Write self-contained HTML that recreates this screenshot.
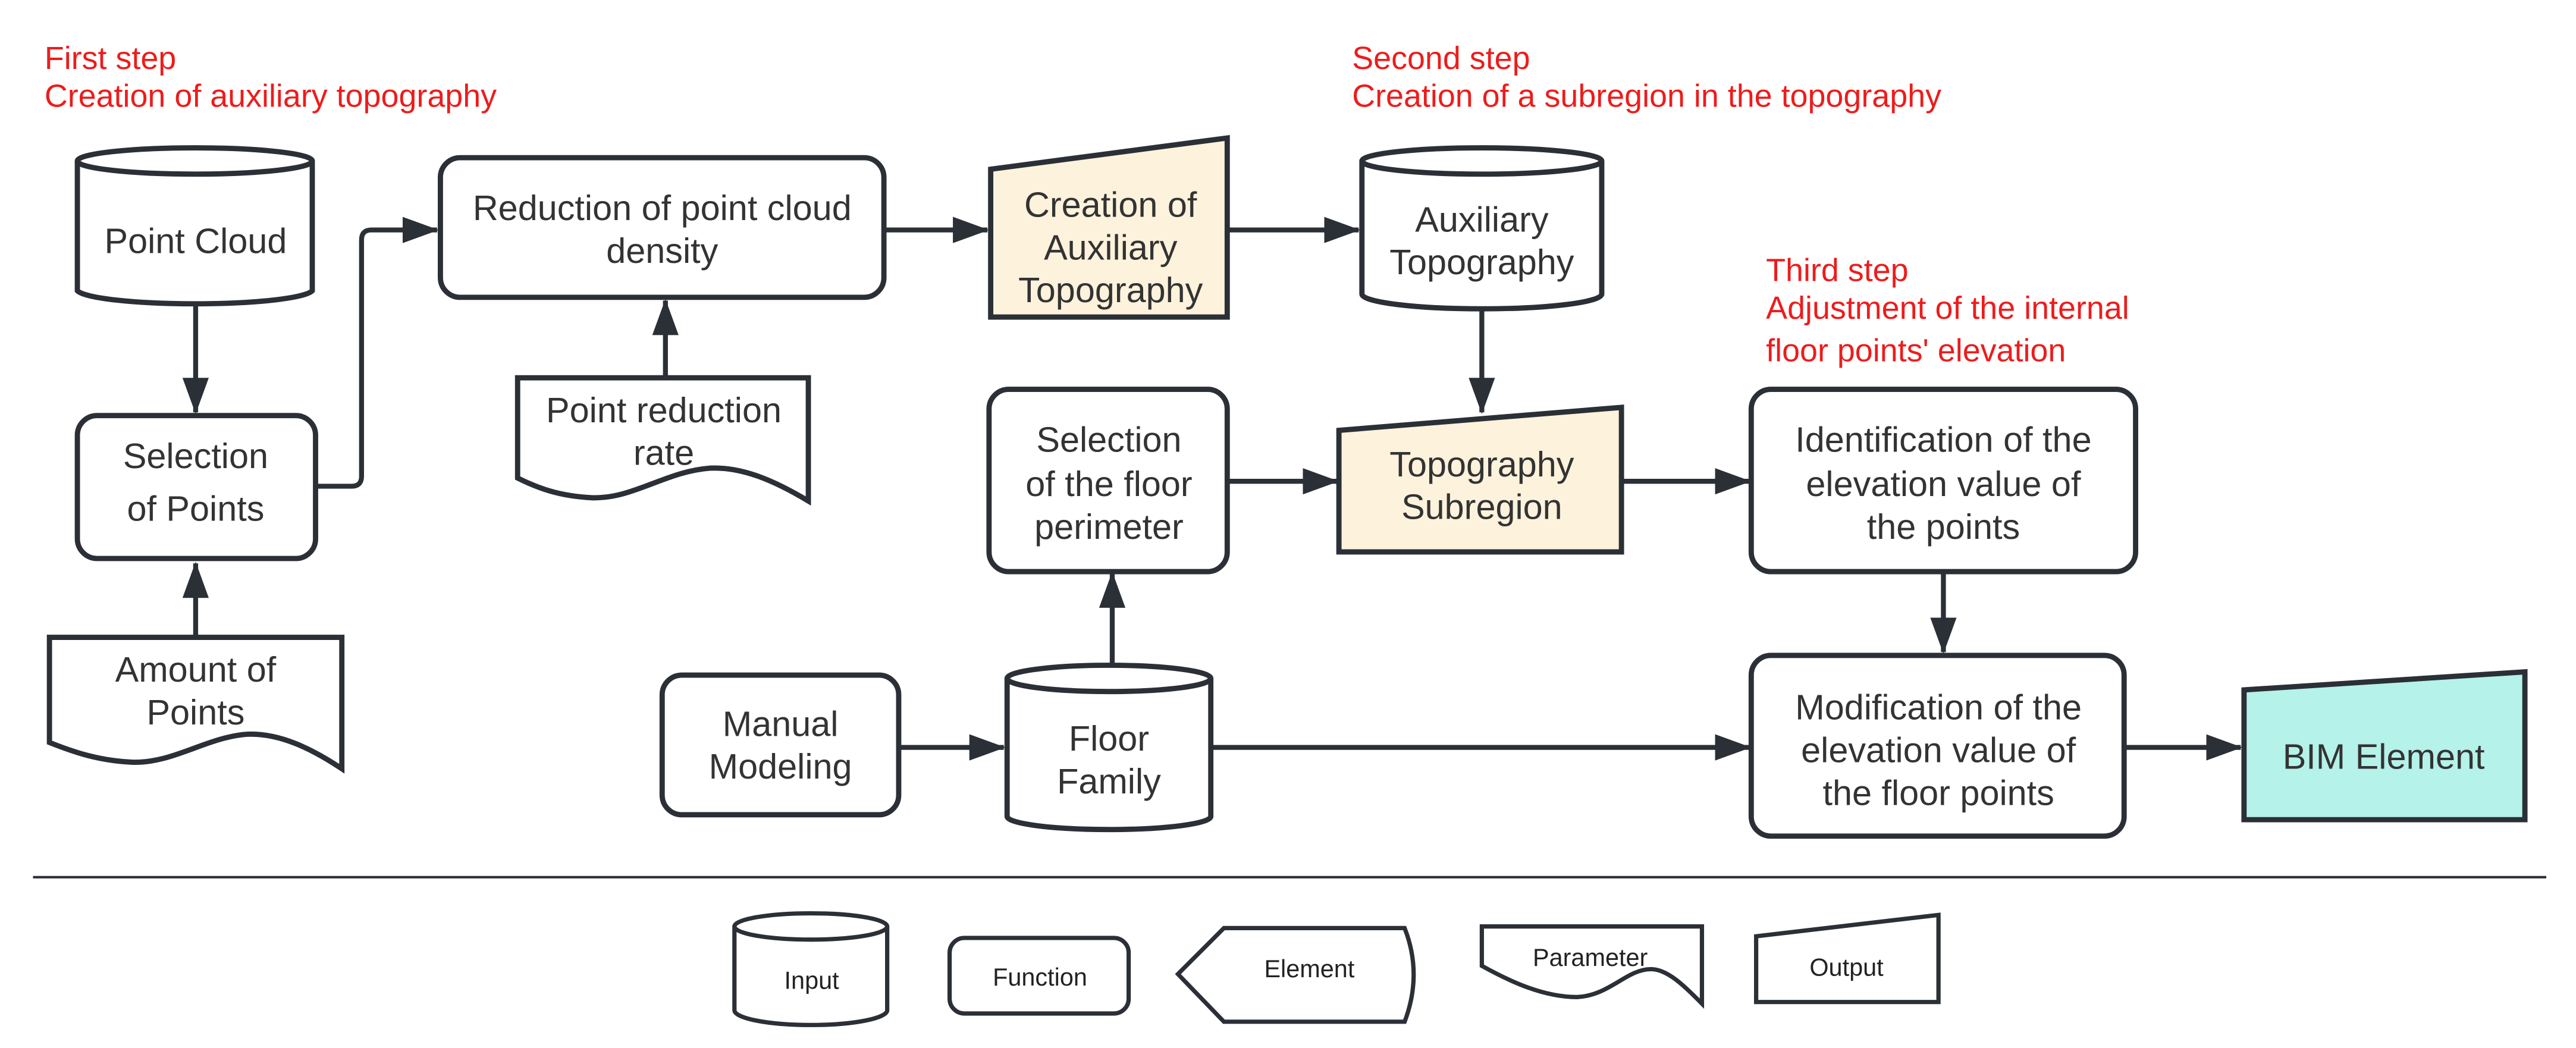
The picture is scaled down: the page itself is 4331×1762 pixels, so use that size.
<!DOCTYPE html>
<html><head><meta charset="utf-8"><style>
html,body{margin:0;padding:0;background:#fff}
svg{display:block}
text{font-family:"Liberation Sans",sans-serif}
</style></head><body>
<svg width="4331" height="1762" viewBox="0 0 1568 638" xmlns="http://www.w3.org/2000/svg">
<defs>
<marker id="b" markerWidth="22" markerHeight="16" refX="21" refY="8" orient="auto" markerUnits="userSpaceOnUse">
<path d="M0,0 L22,8 L0,16 z" fill="#2b2f36"/>
</marker>
</defs>
<g fill="#ed1c1c" font-size="19.5">
<text x="27" y="42">First step</text>
<text x="27" y="65">Creation of auxiliary topography</text>
<text x="823" y="42">Second step</text>
<text x="823" y="65">Creation of a subregion in the topography</text>
<text x="1075" y="171">Third step</text>
<text x="1075" y="194">Adjustment of the internal</text>
<text x="1075" y="220">floor points' elevation</text>
</g>
<g stroke="#2b2f36" stroke-width="3" fill="none">
<path d="M119,186 V251" marker-end="url(#b)"/>
<path d="M119,388 V343" marker-end="url(#b)"/>
<path d="M192,296 H214 Q220,296 220,290 V146 Q220,140 226,140 H266" marker-end="url(#b)"/>
<path d="M405,230 V183" marker-end="url(#b)"/>
<path d="M538,140 H601" marker-end="url(#b)"/>
<path d="M747,140 H827" marker-end="url(#b)"/>
<path d="M902,188 V251" marker-end="url(#b)"/>
<path d="M747,293 H814" marker-end="url(#b)"/>
<path d="M987,293 H1065" marker-end="url(#b)"/>
<path d="M1183,348 V397" marker-end="url(#b)"/>
<path d="M547,455 H611" marker-end="url(#b)"/>
<path d="M677,405 V349" marker-end="url(#b)"/>
<path d="M737,455 H1065" marker-end="url(#b)"/>
<path d="M1293,455 H1364" marker-end="url(#b)"/>
</g>
<g stroke="#2b2f36" stroke-width="3.2" fill="#fff">
<path d="M47,98 V177 A72,9 0 0 0 190,177 V98"/>
<ellipse cx="118.5" cy="98" rx="71.5" ry="8"/>
<rect x="47" y="253" width="145" height="87" rx="12"/>
<path d="M30,388 H208 V468 C190,456 170,446 150,447 C125,449 105,465 80,464 C60,463 45,458 30,452 Z"/>
<rect x="268" y="96" width="270" height="85" rx="12"/>
<path d="M315,230 H492 V305 C472,293 452,284 432,285 C405,287 385,304 360,303 C340,302 327,297 315,291 Z"/>
<path d="M603,103 L747,84 V193 H603 Z" fill="#fdf2dc"/>
<path d="M829,98 V179 A73,9 0 0 0 975,179 V98"/>
<ellipse cx="902" cy="98" rx="73" ry="8"/>
<path d="M815,262 L987,248 V336 H815 Z" fill="#fdf2dc"/>
<rect x="602" y="237" width="145" height="111" rx="12"/>
<rect x="1066" y="237" width="234" height="111" rx="12"/>
<rect x="1066" y="399" width="227" height="110" rx="12"/>
<rect x="403" y="411" width="144" height="85" rx="12"/>
<path d="M613,413 V497 A62,8 0 0 0 737,497 V413"/>
<ellipse cx="675" cy="413" rx="62" ry="8"/>
<path d="M1366,420 L1537,409 V499 H1366 Z" fill="#b5f2e9"/>
</g>
<line x1="20" y1="534" x2="1550" y2="534" stroke="#2b2f36" stroke-width="1.5"/>
<g stroke="#2b2f36" stroke-width="2.6" fill="#fff">
<path d="M447,564 V615 A46.5,9 0 0 0 540,615 V564"/>
<ellipse cx="493.5" cy="564" rx="46.5" ry="8"/>
<rect x="578" y="571" width="109" height="46" rx="9"/>
<path d="M745,565 H855 Q866,593 855,622 H745 L717,593 Z"/>
<path d="M902,564 H1036 V611 C1025,600 1015,590 1005,590 C990,590 980,606 960,607 C940,607 920,598 902,588 Z"/>
<path d="M1069,570 L1180,557 V610 H1069 Z"/>
</g>
<g fill="#333" font-size="21.5" text-anchor="middle">
<text x="119" y="154">Point Cloud</text>
<text x="119" y="285">Selection</text>
<text x="119" y="317">of Points</text>
<text x="119" y="415">Amount of</text>
<text x="119" y="441">Points</text>
<text x="403" y="134">Reduction of point cloud</text>
<text x="403" y="160">density</text>
<text x="404" y="257">Point reduction</text>
<text x="404" y="283">rate</text>
<text x="676" y="132">Creation of</text>
<text x="676" y="158">Auxiliary</text>
<text x="676" y="184">Topography</text>
<text x="902" y="141">Auxiliary</text>
<text x="902" y="167">Topography</text>
<text x="902" y="290">Topography</text>
<text x="902" y="316">Subregion</text>
<text x="675" y="275">Selection</text>
<text x="675" y="302">of the floor</text>
<text x="675" y="328">perimeter</text>
<text x="1183" y="275">Identification of the</text>
<text x="1183" y="302">elevation value of</text>
<text x="1183" y="328">the points</text>
<text x="1180" y="438">Modification of the</text>
<text x="1180" y="464">elevation value of</text>
<text x="1180" y="490">the floor points</text>
<text x="475" y="448">Manual</text>
<text x="475" y="474">Modeling</text>
<text x="675" y="457">Floor</text>
<text x="675" y="483">Family</text>
<text x="1451" y="468">BIM Element</text>
</g>
<g fill="#222" font-size="15" text-anchor="middle">
<text x="494" y="602">Input</text>
<text x="633" y="600">Function</text>
<text x="797" y="595">Element</text>
<text x="968" y="588">Parameter</text>
<text x="1124" y="594">Output</text>
</g>
</svg>
</body></html>
